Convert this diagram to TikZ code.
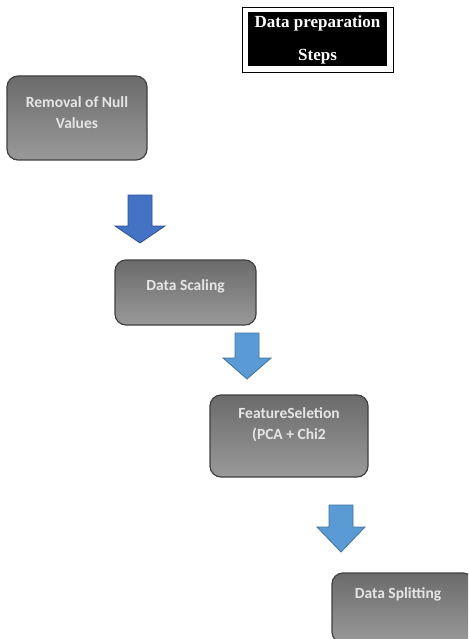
\documentclass[tikz,border=0pt]{standalone}
\usepackage{fontspec}
\setmainfont{Liberation Serif}
\newfontfamily\calfont{Carlito}
\begin{document}
\begin{tikzpicture}[x=1pt,y=-1pt,
  stepbox/.style={draw=black!75, line width=1.2pt, rounded corners=11pt,
    top color=black!58, bottom color=black!40, inner sep=0pt},
  steplabel/.style={text=black!10, font=\calfont\bfseries\fontsize{15.5}{21}\selectfont, align=center, inner sep=0pt},
  darkarrow/.style={fill={rgb,255:red,68;green,114;blue,196}, draw={rgb,255:red,47;green,82;blue,143}, line width=0.8pt},
  lightarrow/.style={fill={rgb,255:red,91;green,155;blue,213}, draw={rgb,255:red,65;green,113;blue,156}, line width=0.8pt},
  titletext/.style={text=white, font=\bfseries\fontsize{17}{20}\selectfont, inner sep=0pt}
]
\useasboundingbox (0,0) rectangle (468,639);
\clip (0,0) rectangle (468,639);
\fill[white] (0,0) rectangle (468,639);

% title
\node[draw=black, line width=0.9pt, fill=white, minimum width=151pt, minimum height=65pt, inner sep=0pt] (tframe) at (317.5,39.5) {};
\node[fill=black, minimum width=139pt, minimum height=54pt, inner sep=0pt] (tblack) at (317.5,39) {};
\node[titletext] (t1) at (317.5,23) {Data preparation};
\node[titletext] (t2) at (317.5,57) {Steps};

% boxes
\node[stepbox, minimum width=140pt, minimum height=84pt] (b1) at (77,118) {};
\node[steplabel] (b1t) at (77,112.5) {Removal of Null\\Values};

\node[stepbox, minimum width=141pt, minimum height=65pt] (b2) at (185.5,292.5) {};
\node[steplabel] (b2t) at (185.5,286) {Data Scaling};

\node[stepbox, minimum width=158pt, minimum height=82pt] (b3) at (289,436) {};
\node[steplabel] (b3t) at (289,425) {FeatureSeletion\\(PCA + Chi2};

\node[stepbox, minimum width=142pt, minimum height=70pt] (b4) at (403,608) {};
\node[steplabel] (b4t) at (398,594) {Data Splitting};

% block arrows
\draw[darkarrow] (128,195) -- (152,195) -- (152,226) -- (165,226) -- (140,243) -- (115,226) -- (128,226) -- cycle;
\draw[lightarrow] (235,333) -- (259,333) -- (259,358) -- (271,358) -- (247,379) -- (223,358) -- (235,358) -- cycle;
\draw[lightarrow] (329,505) -- (353,505) -- (353,527) -- (365,527) -- (341,552) -- (317,527) -- (329,527) -- cycle;
\end{tikzpicture}
\end{document}
